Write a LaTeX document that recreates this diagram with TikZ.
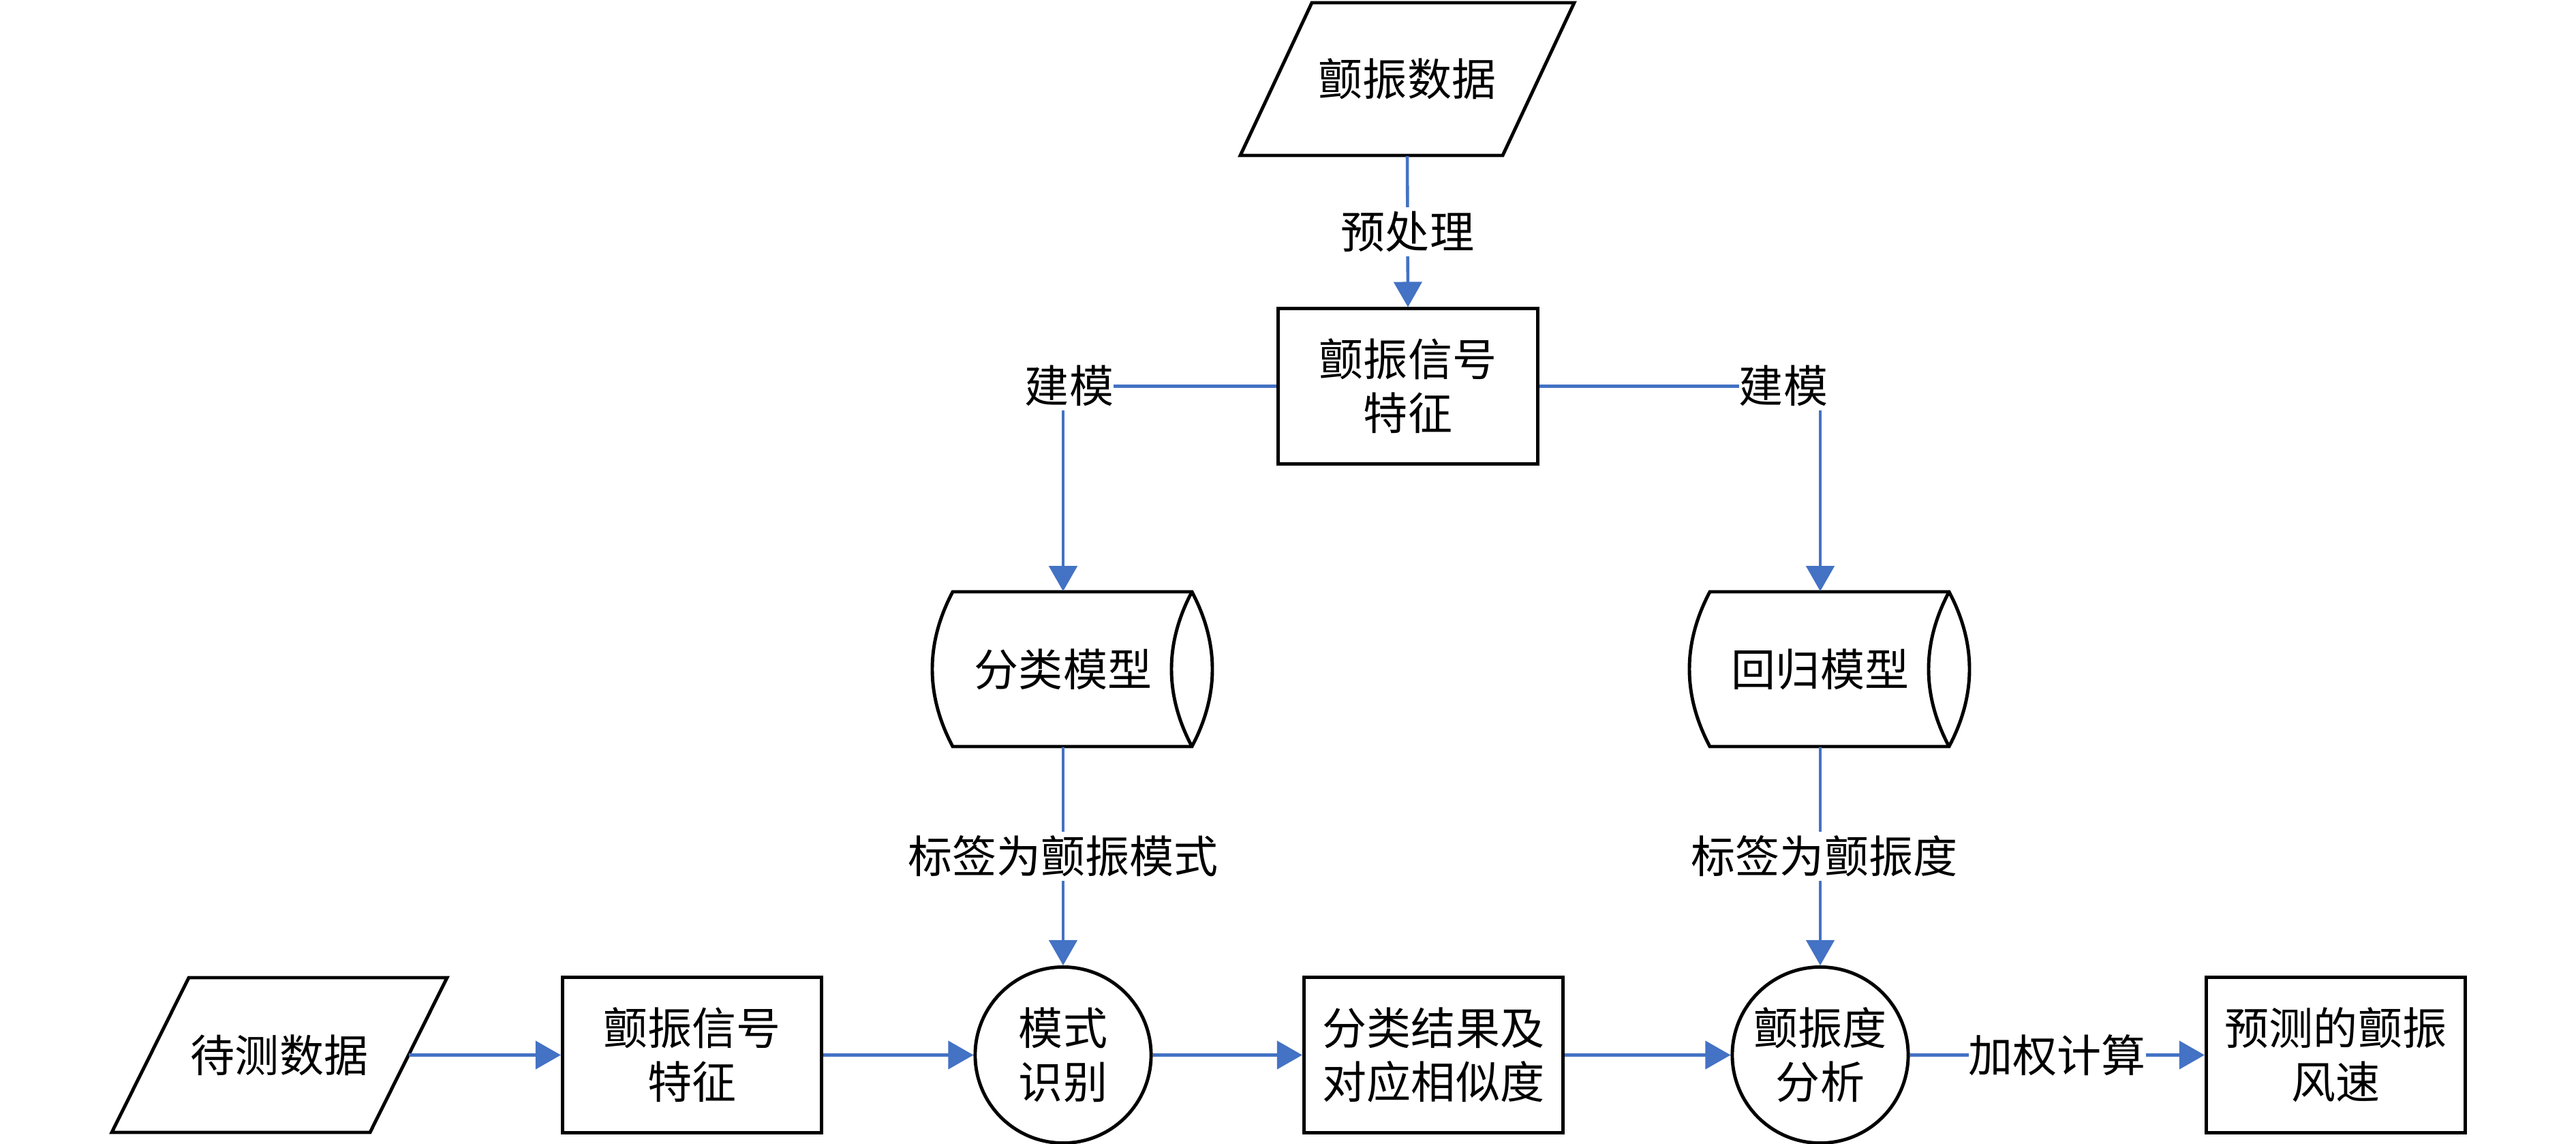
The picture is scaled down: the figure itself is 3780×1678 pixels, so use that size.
\documentclass[tikz,border=0pt]{standalone}
\usepackage{fontspec}
\setmainfont{Noto Sans CJK SC}
\usetikzlibrary{arrows.meta}
\definecolor{lnblue}{RGB}{68,114,196}
\begin{document}
\begin{tikzpicture}[x=0.01cm,y=-0.01cm,
  every node/.style={font=\fontsize{18.5pt}{22.5pt}\selectfont, align=center},
  blk/.style={draw=black, line width=1.4pt},
  boxnode/.style={blk, rectangle, minimum width=3.8cm, minimum height=2.28cm, inner sep=0pt},
  circnode/.style={blk, circle, minimum size=2.58cm, inner sep=0pt},
  ghost/.style={rectangle, inner sep=0pt},
  conn/.style={draw=lnblue, line width=1.3pt, -{Triangle[length=0.37cm,width=0.41cm]}},
  lbl/.style={fill=white, inner xsep=0pt, inner ysep=0.06cm}]
\useasboundingbox (0,0) rectangle (3780,1678);

% ---- top part ----
\node[ghost, minimum width=3.85cm, minimum height=2.24cm] (d0) at (2065,116) {颤振数据};
\begin{scope}[shift={(d0.center)}]
  \draw[blk] (-140,-112) -- (245,-112) -- (140,112) -- (-245,112) -- cycle;
\end{scope}

\node[boxnode, minimum height=2.27cm] (bt) at (2066,566.5) {颤振信号\\特征};

\node[ghost, minimum width=2cm, minimum height=2.27cm] (cl) at (1560,981.5) {分类模型};
\node[ghost, minimum width=2cm, minimum height=2.27cm] (cr) at (2671,981.5) {回归模型};
\foreach \c in {cl,cr}{
  \begin{scope}[shift={(\c.center)}]
    \draw[blk, line join=miter] (-162,-113.5) -- (189,-113.5)
      .. controls (229,-38) and (229,38) .. (189,113.5)
      -- (-162,113.5)
      .. controls (-202,38) and (-202,-38) .. (-162,-113.5) -- cycle;
    \draw[blk] (189,-113.5) .. controls (149,-38) and (149,38) .. (189,113.5);
  \end{scope}
}

% ---- bottom row ----
\node[ghost, minimum width=3.79cm, minimum height=2.27cm] (d1) at (410,1547.5) {待测数据};
\begin{scope}[shift={(d1.center)}]
  \draw[blk] (-133,-113.5) -- (246,-113.5) -- (133,113.5) -- (-246,113.5) -- cycle;
\end{scope}

\node[boxnode] (b1) at (1015.5,1547.5) {颤振信号\\特征};
\node[circnode] (c1) at (1560,1547.5) {模式\\识别};
\node[boxnode] (b2) at (2103.5,1547.5) {分类结果及\\对应相似度};
\node[circnode] (c2) at (2671,1547.5) {颤振度\\分析};
\node[boxnode] (b3) at (3427.5,1547.5) {预测的颤振\\风速};

% ---- connectors ----
\draw[conn] (d0.south) -- node[lbl] (lp) {预处理} (bt.north);
\draw[conn] (bt.west) -| (cl.north);
\draw[conn] (bt.east) -| (cr.north);
\node[lbl] (lm1) at (1569,566) {建模};
\node[lbl] (lm2) at (2617,566) {建模};
\draw[conn] (cl.south) -- node[lbl] (lt1) {标签为颤振模式} (c1.north);
\draw[conn] (cr.south) -- node[lbl, xshift=0.06cm] (lt2) {标签为颤振度} (c2.north);

\draw[conn] (d1.east) -- (b1.west);
\draw[conn] (b1.east) -- (c1.west);
\draw[conn] (c1.east) -- (b2.west);
\draw[conn] (b2.east) -- (c2.west);
\draw[conn] (c2.east) -- node[lbl] (lw) {加权计算} (b3.west);
\end{tikzpicture}
\end{document}
